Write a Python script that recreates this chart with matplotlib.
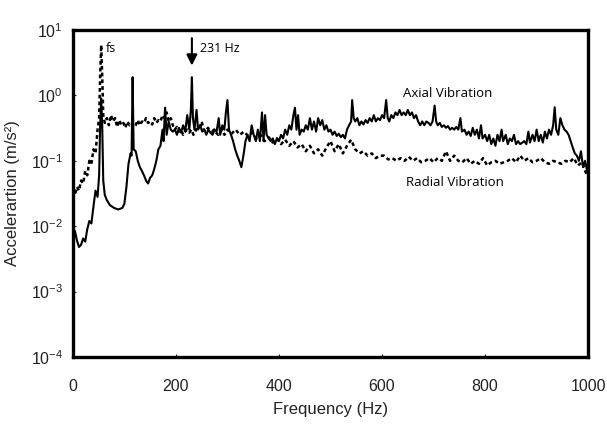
import matplotlib
matplotlib.use("Agg")
import matplotlib.pyplot as plt
import numpy as np

# axial vibration spectrum (solid)
axial_f = [0, 4, 8, 12, 16, 20, 24, 28, 32, 36, 40, 44, 48, 51, 53, 55, 57, 59, 62, 66,
           72, 80, 88, 96, 100, 104, 108, 112, 114, 116, 118, 122, 126, 130, 134, 138, 142, 146, 150, 154,
           158, 162, 166, 170, 174, 176, 179, 182, 186, 190, 194, 198, 202, 206, 210, 214, 218, 222, 226, 229,
           231, 233, 236, 240, 243, 247, 251, 255, 259, 263, 267, 271, 275, 279, 283, 286, 290, 294, 297, 300,
           303, 307, 311, 315, 319, 323, 327, 331, 335, 339, 343, 347, 351, 355, 359, 363, 367, 370, 373, 376,
           380, 384, 388, 392, 396, 400, 404, 408, 412, 416, 420, 424, 428, 431, 434, 437, 440, 444, 448, 452,
           456, 460, 464, 468, 472, 476, 480, 484, 488, 492, 496, 500, 504, 508, 512, 516, 520, 524, 528, 532,
           536, 540, 542, 545, 548, 552, 556, 560, 564, 568, 572, 576, 580, 584, 588, 592, 596, 600, 604, 608,
           611, 614, 618, 622, 626, 630, 634, 638, 642, 646, 650, 654, 658, 662, 666, 670, 674, 678, 682, 686,
           690, 694, 698, 702, 705, 708, 712, 716, 720, 724, 728, 732, 736, 740, 744, 748, 752, 755, 760, 764,
           768, 772, 776, 780, 784, 788, 792, 795, 800, 804, 808, 812, 816, 820, 824, 828, 832, 835, 840, 844,
           848, 852, 856, 860, 864, 868, 872, 876, 880, 884, 887, 892, 896, 900, 904, 908, 912, 916, 920, 924,
           928, 932, 935, 938, 942, 946, 950, 954, 958, 962, 966, 970, 974, 978, 982, 986, 990, 994, 998]
axial_a = [0.0055, 0.0085, 0.006, 0.0048, 0.0052, 0.0065, 0.0058, 0.009, 0.012, 0.011, 0.02, 0.035, 0.028, 0.06, 0.35, 0.9, 0.35, 0.05, 0.03, 0.025,
           0.021, 0.019, 0.018, 0.019, 0.022, 0.04, 0.09, 0.13, 0.12, 1.9, 0.15, 0.14, 0.1, 0.08, 0.07, 0.06, 0.05, 0.045, 0.055, 0.06,
           0.075, 0.1, 0.15, 0.17, 0.3, 0.2, 0.65, 0.25, 0.4, 0.3, 0.28, 0.3, 0.25, 0.32, 0.27, 0.35, 0.28, 0.5, 0.3, 0.6,
           1.9, 0.45, 0.3, 0.6, 0.3, 0.35, 0.28, 0.3, 0.25, 0.3, 0.27, 0.25, 0.3, 0.28, 0.45, 0.25, 0.35, 0.3, 0.55, 0.85,
           0.3, 0.25, 0.2, 0.15, 0.12, 0.1, 0.08, 0.12, 0.2, 0.25, 0.2, 0.35, 0.25, 0.2, 0.3, 0.2, 0.55, 0.2, 0.5, 0.25,
           0.22, 0.2, 0.22, 0.18, 0.22, 0.2, 0.25, 0.22, 0.3, 0.25, 0.35, 0.3, 0.5, 0.65, 0.3, 0.5, 0.25, 0.3, 0.28, 0.35,
           0.3, 0.45, 0.3, 0.4, 0.28, 0.45, 0.35, 0.42, 0.3, 0.35, 0.28, 0.3, 0.25, 0.28, 0.24, 0.26, 0.23, 0.25, 0.22, 0.3,
           0.35, 0.4, 0.85, 0.45, 0.4, 0.45, 0.35, 0.4, 0.36, 0.42, 0.38, 0.45, 0.4, 0.5, 0.4, 0.45, 0.42, 0.5, 0.45, 0.85,
           0.45, 0.4, 0.5, 0.45, 0.55, 0.5, 0.6, 0.5, 0.55, 0.5, 0.6, 0.5, 0.55, 0.45, 0.5, 0.4, 0.35, 0.4, 0.35, 0.4,
           0.38, 0.35, 0.4, 0.7, 0.4, 0.35, 0.38, 0.33, 0.35, 0.32, 0.34, 0.3, 0.32, 0.3, 0.33, 0.3, 0.45, 0.28, 0.3, 0.25,
           0.28, 0.24, 0.32, 0.25, 0.3, 0.22, 0.35, 0.22, 0.25, 0.2, 0.25, 0.18, 0.22, 0.17, 0.25, 0.2, 0.3, 0.2, 0.25, 0.18,
           0.22, 0.2, 0.25, 0.18, 0.2, 0.18, 0.19, 0.2, 0.18, 0.28, 0.19, 0.25, 0.2, 0.3, 0.2, 0.25, 0.19, 0.28, 0.22, 0.3,
           0.25, 0.35, 0.66, 0.3, 0.25, 0.45, 0.35, 0.3, 0.28, 0.25, 0.2, 0.16, 0.13, 0.12, 0.1, 0.14, 0.08, 0.1, 0.07]

# radial vibration spectrum (dotted)
radial_f = [0, 4, 8, 12, 16, 20, 24, 28, 32, 36, 40, 44, 48, 51, 53, 55, 57, 59, 62, 66,
            70, 74, 78, 82, 86, 90, 94, 98, 102, 106, 110, 114, 118, 122, 126, 130, 134, 138, 142, 146,
            150, 154, 158, 162, 166, 170, 174, 178, 182, 186, 190, 194, 198, 202, 206, 210, 214, 218, 222, 226,
            230, 234, 238, 242, 246, 250, 254, 258, 262, 266, 270, 274, 278, 282, 286, 290, 294, 298, 300, 308,
            316, 324, 332, 340, 348, 356, 364, 372, 380, 388, 396, 404, 412, 420, 428, 436, 444, 452, 460, 468,
            476, 484, 492, 500, 508, 516, 524, 532, 540, 548, 556, 564, 572, 580, 588, 596, 604, 612, 620, 628,
            636, 644, 652, 660, 668, 676, 684, 692, 700, 708, 716, 724, 732, 740, 748, 756, 764, 772, 780, 788,
            796, 804, 812, 820, 828, 836, 844, 852, 860, 868, 876, 884, 892, 900, 908, 916, 924, 932, 940, 948,
            956, 964, 972, 980, 988, 994, 998]
radial_a = [0.045, 0.03, 0.04, 0.035, 0.05, 0.045, 0.07, 0.06, 0.1, 0.09, 0.15, 0.13, 0.3, 0.45, 2.0, 5.9, 2.0, 0.5, 0.38, 0.45,
            0.35, 0.5, 0.4, 0.45, 0.33, 0.42, 0.35, 0.38, 0.32, 0.4, 0.35, 0.38, 0.33, 0.35, 0.42, 0.35, 0.4, 0.38, 0.45, 0.38,
            0.4, 0.36, 0.45, 0.38, 0.42, 0.4, 0.5, 0.45, 0.55, 0.4, 0.45, 0.35, 0.3, 0.33, 0.28, 0.3, 0.25, 0.28, 0.3, 0.27,
            0.3, 0.25, 0.28, 0.35, 0.3, 0.4, 0.3, 0.28, 0.32, 0.3, 0.28, 0.3, 0.27, 0.25, 0.28, 0.3, 0.25, 0.28, 0.3, 0.26,
            0.3, 0.25, 0.28, 0.24, 0.27, 0.22, 0.25, 0.2, 0.23, 0.19, 0.22, 0.18, 0.21, 0.17, 0.2, 0.16, 0.18, 0.14, 0.17, 0.13,
            0.15, 0.12, 0.16, 0.2, 0.14, 0.18, 0.13, 0.17, 0.21, 0.15, 0.13, 0.14, 0.12, 0.13, 0.11, 0.12, 0.12, 0.105, 0.11, 0.1,
            0.11, 0.1, 0.115, 0.1, 0.11, 0.095, 0.1, 0.11, 0.095, 0.11, 0.1, 0.14, 0.1, 0.12, 0.1, 0.095, 0.11, 0.09, 0.1, 0.09,
            0.11, 0.085, 0.095, 0.1, 0.09, 0.095, 0.1, 0.11, 0.095, 0.12, 0.1, 0.11, 0.095, 0.1, 0.11, 0.095, 0.09, 0.1, 0.095, 0.09,
            0.1, 0.095, 0.11, 0.085, 0.095, 0.07, 0.06]

ytick_vals = [1e-4, 1e-3, 1e-2, 1e-1, 1e0, 1e1]
ytick_labels = ['$10^{-4}$', '$10^{-3}$', '$10^{-2}$', '$10^{-1}$', '$10^{0}$', '$10^{1}$']
xtick_vals = [0, 200, 400, 600, 800, 1000]

plt.rcParams['font.family'] = ['Liberation Sans', 'DejaVu Sans']
plt.rcParams['mathtext.fontset'] = 'custom'
plt.rcParams['mathtext.rm'] = 'Liberation Sans'
plt.rcParams['mathtext.default'] = 'regular'

fig = plt.figure(figsize=(6.07, 4.30), dpi=100)
ax = fig.add_axes([0.120, 0.170, 0.849, 0.760])

ax.plot(axial_f, axial_a, color='black', lw=1.5)
ax.plot(radial_f, radial_a, color='black', lw=1.8, linestyle=(0, (1.5, 1.2)))

ax.set_yscale('log')
ax.set_xlim(0, 1000)
ax.set_ylim(1e-4, 1e1)
ax.set_yticks(ytick_vals)
ax.set_yticklabels(ytick_labels)
ax.minorticks_off()
ax.set_xticks(xtick_vals)
ax.tick_params(axis='both', direction='in', length=2, width=0.8, colors='#222222',
               labelsize=11.5, pad=7)
ax.tick_params(axis='x', pad=16)

for s in ax.spines.values():
    s.set_linewidth(2.4)

ax.set_xlabel('Frequency (Hz)', fontsize=12, color='#222222', labelpad=6)
ax.set_ylabel('Accelerartion (m/s²)', fontsize=12, color='#222222', labelpad=8)

ax.text(64, 5.3, 'fs', fontsize=9, family='Open Sans', va='center', ha='left')
ax.annotate('', xy=(231, 2.6), xytext=(231, 8.3),
            arrowprops=dict(arrowstyle='-|>', color='black', lw=1.5, mutation_scale=16))
ax.text(247, 5.3, '231 Hz', fontsize=9, family='Open Sans', va='center', ha='left')
ax.text(728, 1.09, 'Axial Vibration', fontsize=9.5, family='Open Sans', va='center', ha='center')
ax.text(742, 0.046, 'Radial Vibration', fontsize=9.5, family='Open Sans', va='center', ha='center')

fig.savefig('out.png', dpi=100)
